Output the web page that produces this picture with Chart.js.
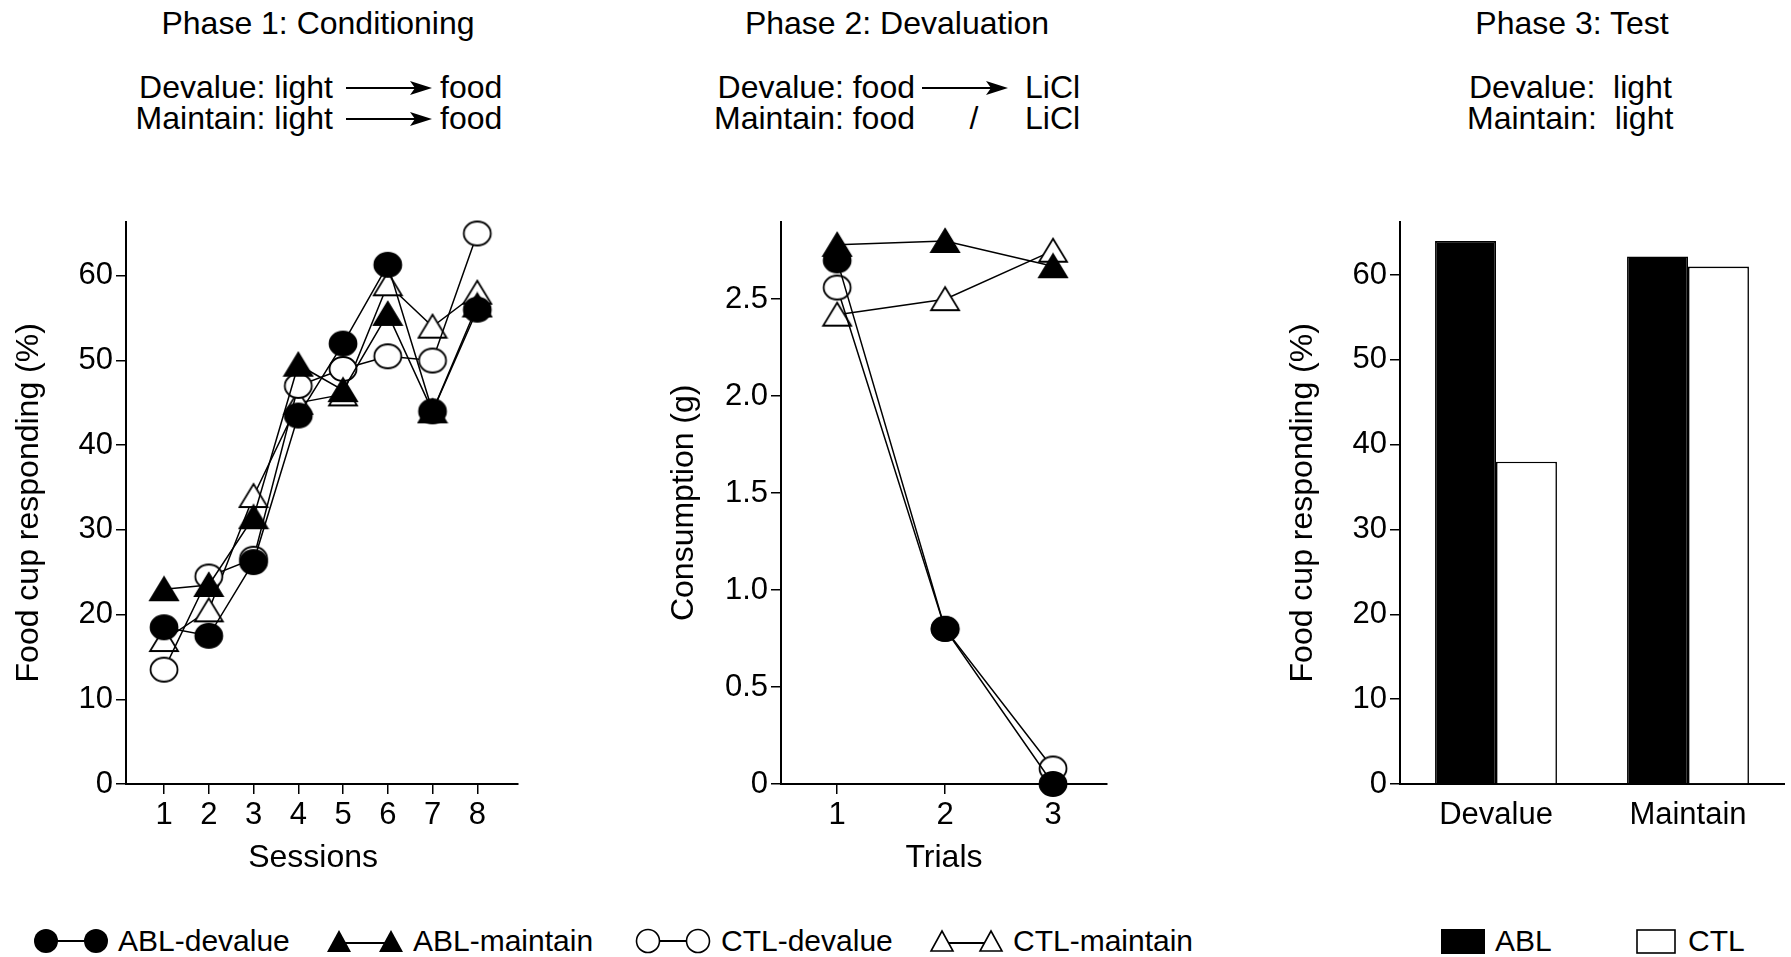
<!DOCTYPE html>
<html>
<head>
<meta charset="utf-8">
<script src="https://cdn.jsdelivr.net/npm/chart.js@4"></script>
<style>
  body { margin: 0; width: 1791px; height: 957px; background: #fff; position: relative; overflow: hidden;
         font-family: "Liberation Sans", Arial, sans-serif; color: #000; }
  .t { position: absolute; font-size: 32px; line-height: 31px; white-space: pre; }
  .c { transform: translateX(-50%); }
  .lg { position: absolute; font-size: 30px; line-height: 30px; white-space: pre; top: 926px; }
  svg, canvas { position: absolute; }
</style>
</head>
<body>

<!-- phase headers -->
<div class="t c" style="left:318px; top:8px">Phase 1: Conditioning</div>
<div class="t" style="right:1458px; top:72px">Devalue: light</div>
<div class="t" style="right:1458px; top:103px">Maintain: light</div>
<svg style="left:346px; top:81px" width="86" height="14"><line x1="0" y1="7" x2="72" y2="7" stroke="#000" stroke-width="2"/><polygon points="86,7 64,0 69,7 64,14" fill="#000"/></svg>
<svg style="left:346px; top:112px" width="86" height="14"><line x1="0" y1="7" x2="72" y2="7" stroke="#000" stroke-width="2"/><polygon points="86,7 64,0 69,7 64,14" fill="#000"/></svg>
<div class="t" style="left:440px; top:72px">food</div>
<div class="t" style="left:440px; top:103px">food</div>

<div class="t c" style="left:897px; top:8px">Phase 2: Devaluation</div>
<div class="t" style="right:876px; top:72px">Devalue: food</div>
<div class="t" style="right:876px; top:103px">Maintain: food</div>
<svg style="left:922px; top:81px" width="86" height="14"><line x1="0" y1="7" x2="72" y2="7" stroke="#000" stroke-width="2"/><polygon points="86,7 64,0 69,7 64,14" fill="#000"/></svg>
<div class="t c" style="left:974px; top:103px">/</div>
<div class="t" style="left:1025px; top:72px">LiCl</div>
<div class="t" style="left:1025px; top:103px">LiCl</div>

<div class="t c" style="left:1572px; top:8px">Phase 3: Test</div>
<div class="t" style="left:1469px; top:72px">Devalue:  light</div>
<div class="t" style="left:1467px; top:103px">Maintain:  light</div>

<canvas id="cond" width="538" height="680" style="left:0px; top:200px"></canvas>
<canvas id="deval" width="472" height="680" style="left:655px; top:200px"></canvas>
<canvas id="test" width="517" height="680" style="left:1274px; top:200px"></canvas>

<!-- legends -->
<svg style="left:32px; top:926px" width="80" height="30"><line x1="14" y1="15" x2="64" y2="15" stroke="#000" stroke-width="2"/><circle cx="14" cy="15" r="12" fill="#000"/><circle cx="64" cy="15" r="12" fill="#000"/></svg>
<div class="lg" style="left:118px">ABL-devalue</div>
<svg style="left:324px; top:926px" width="82" height="30"><line x1="15" y1="17" x2="67" y2="17" stroke="#000" stroke-width="2"/><polygon points="15,4 27,26 3,26" fill="#000"/><polygon points="67,4 79,26 55,26" fill="#000"/></svg>
<div class="lg" style="left:413px">ABL-maintain</div>
<svg style="left:634px; top:926px" width="80" height="30"><line x1="14" y1="15" x2="64" y2="15" stroke="#000" stroke-width="2"/><circle cx="14" cy="15" r="11.5" fill="#fff" stroke="#000" stroke-width="1.6"/><circle cx="64" cy="15" r="11.5" fill="#fff" stroke="#000" stroke-width="1.6"/></svg>
<div class="lg" style="left:721px">CTL-devalue</div>
<svg style="left:927px; top:926px" width="82" height="30"><line x1="15" y1="17" x2="64" y2="17" stroke="#000" stroke-width="2"/><polygon points="15,5 26,25 4,25" fill="#fff" stroke="#000" stroke-width="1.6"/><polygon points="64,5 75,25 53,25" fill="#fff" stroke="#000" stroke-width="1.6"/></svg>
<div class="lg" style="left:1013px">CTL-maintain</div>
<svg style="left:1441px; top:929px" width="44" height="25"><rect x="0" y="0" width="44" height="25" fill="#000"/></svg>
<div class="lg" style="left:1495px">ABL</div>
<svg style="left:1636px; top:929px" width="40" height="25"><rect x="1" y="1" width="38" height="23" fill="#fff" stroke="#000" stroke-width="1.6"/></svg>
<div class="lg" style="left:1688px">CTL</div>

<script>
// Phase 1: conditioning, food cup responding (%)
const sessions = [1, 2, 3, 4, 5, 6, 7, 8];
const condAblDevalue  = [18.5, 17.5, 26.2, 43.5, 52.0, 61.3, 44.0, 56.0];
const condAblMaintain = [23.0, 23.5, 31.5, 49.5, 46.5, 55.5, 44.0, 56.5];
const condCtlDevalue  = [13.5, 24.5, 26.6, 47.0, 49.0, 50.5, 50.0, 65.0];
const condCtlMaintain = [17.0, 20.5, 34.0, 45.0, 46.0, 59.0, 54.0, 58.0];

// Phase 2: devaluation, consumption (g)
const trials = [1, 2, 3];
const devAblDevalue  = [2.70, 0.80, 0.00];
const devAblMaintain = [2.78, 2.80, 2.67];
const devCtlDevalue  = [2.56, 0.80, 0.08];
const devCtlMaintain = [2.42, 2.50, 2.75];

// Phase 3: test, food cup responding (%)
const testGroups = ['Devalue', 'Maintain'];
const testAbl = [64.0, 62.2];
const testCtl = [38.0, 61.0];

// tick values
const pctTicks = [0, 10, 20, 30, 40, 50, 60];
const gramTicks = [0, 0.5, 1.0, 1.5, 2.0, 2.5];

Chart.defaults.font.family = '"Liberation Sans", Arial, sans-serif';
Chart.defaults.font.size = 31;
Chart.defaults.color = '#000';
Chart.defaults.animation = false;

const FONT_TITLE = { size: 32 };

// slightly wide markers, like the printed figure
function marker(shape, filled) {
    const c = document.createElement('canvas');
    c.width = 32; c.height = 28;
    const g = c.getContext('2d');
    g.beginPath();
    if (shape === 'circle') {
        g.ellipse(16, 14, 13.5, 12, 0, 0, Math.PI * 2);
    } else {
        g.moveTo(16, 2); g.lineTo(30, 25); g.lineTo(2, 25); g.closePath();
    }
    g.fillStyle = filled ? '#000' : '#fff';
    g.fill();
    g.lineWidth = 1.8;
    g.strokeStyle = '#000';
    g.stroke();
    return c;
}

function yAxis(ticks, max, title, fmt) {
    return {
        min: 0,
        max: max,
        afterFit: s => { s.width = 126; },
        afterBuildTicks: s => { s.ticks = ticks.map(v => ({ value: v })); },
        grid: { drawOnChartArea: false, drawTicks: true, tickLength: 10, color: '#000', lineWidth: 1.5 },
        border: { display: true, color: '#000', width: 2 },
        ticks: { padding: 3, callback: fmt },
        title: { display: true, text: title, font: FONT_TITLE, padding: { top: 10, bottom: 0 } }
    };
}

function xTitle(text) {
    return { display: true, text: text, font: FONT_TITLE, padding: { top: 0, bottom: 3 } };
}

function series(label, xs, ys, shape, filled) {
    return {
        label: label,
        data: ys.map((v, i) => ({ x: xs[i], y: v })),
        borderColor: '#000',
        borderWidth: 1.5,
        pointStyle: marker(shape, filled),
        pointRadius: 14,
        tension: 0,
        clip: false
    };
}

function lineChart(id, xs, sets, xMin, xMax, yTicks, yMax, xLabel, yLabel, fmt) {
    new Chart(document.getElementById(id), {
        type: 'line',
        data: {
            datasets: [
                series('ABL-devalue', xs, sets[0], 'circle', true),
                series('ABL-maintain', xs, sets[1], 'triangle', true),
                series('CTL-devalue', xs, sets[2], 'circle', false),
                series('CTL-maintain', xs, sets[3], 'triangle', false)
            ]
        },
        options: {
            responsive: false,
            devicePixelRatio: 1,
            layout: { padding: { top: 20, right: 20, bottom: 0, left: 0 } },
            plugins: { legend: { display: false }, tooltip: { enabled: false } },
            scales: {
                x: {
                    type: 'linear',
                    min: xMin,
                    max: xMax,
                    afterFit: s => { s.height = 96; },
                    afterBuildTicks: s => { s.ticks = xs.map(v => ({ value: v })); },
                    grid: { drawOnChartArea: false, drawTicks: true, tickLength: 10, color: '#000', lineWidth: 1.5 },
                    border: { display: true, color: '#000', width: 2 },
                    ticks: { padding: 3, maxRotation: 0, autoSkip: false },
                    title: xTitle(xLabel)
                },
                y: yAxis(yTicks, yMax, yLabel, fmt)
            }
        }
    });
}

lineChart('cond', sessions,
    [condAblDevalue, condAblMaintain, condCtlDevalue, condCtlMaintain],
    0.15, 8.91, pctTicks, 66.4, 'Sessions  ', 'Food cup responding (%)', v => String(v));

lineChart('deval', trials,
    [devAblDevalue, devAblMaintain, devCtlDevalue, devCtlMaintain],
    0.48, 3.5, gramTicks, 2.9, 'Trials', 'Consumption (g)', v => v === 0 ? '0' : v.toFixed(1));

new Chart(document.getElementById('test'), {
    type: 'bar',
    data: {
        labels: testGroups,
        datasets: [
            { label: 'ABL', data: testAbl, backgroundColor: '#000', borderColor: '#000', borderWidth: 1.6,
              categoryPercentage: 0.635, barPercentage: 1 },
            { label: 'CTL', data: testCtl, backgroundColor: '#fff', borderColor: '#000', borderWidth: 1.6,
              categoryPercentage: 0.635, barPercentage: 1 }
        ]
    },
    options: {
        responsive: false,
        devicePixelRatio: 1,
        layout: { padding: { top: 20, right: 7, bottom: 0, left: 0 } },
        plugins: { legend: { display: false }, tooltip: { enabled: false } },
        scales: {
            x: {
                afterFit: s => { s.height = 96; },
                grid: { drawOnChartArea: false, drawTicks: true, tickLength: 10, color: 'rgba(0,0,0,0)' },
                border: { display: true, color: '#000', width: 2 },
                ticks: { padding: 3, maxRotation: 0 }
            },
            y: yAxis(pctTicks, 66.3, 'Food cup responding (%)', v => String(v))
        }
    }
});
</script>
</body>
</html>
